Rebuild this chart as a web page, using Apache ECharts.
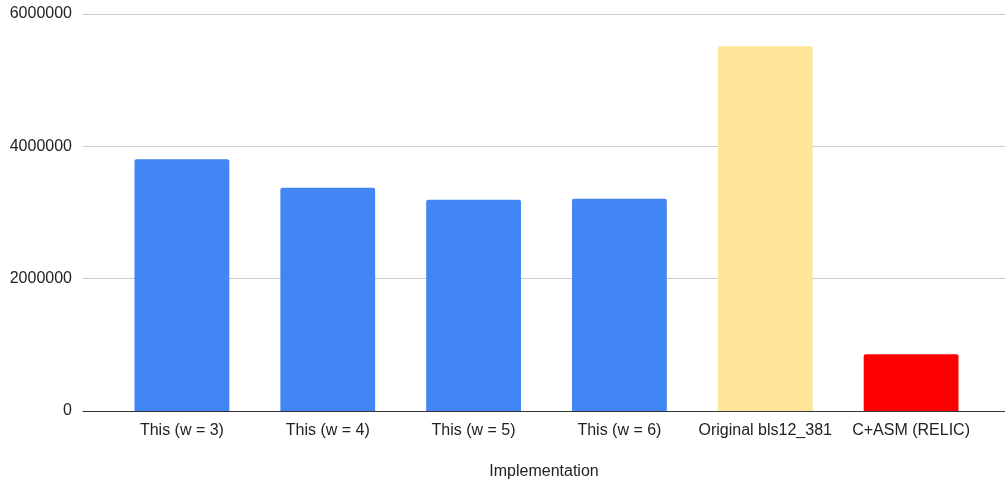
<!DOCTYPE html>
<html>
<head>
<meta charset="utf-8">
<style>
  html, body { margin: 0; padding: 0; background: #fff; }
  #chart { width: 1005px; height: 481px; }
</style>
<script src="https://cdn.jsdelivr.net/npm/echarts@6/dist/echarts.min.js"></script>
</head>
<body>
<div id="chart"></div>
<script>
// Implementation timings
const categories = ['This (w = 3)', 'This (w = 4)', 'This (w = 5)', 'This (w = 6)', 'Original bls12_381', 'C+ASM (RELIC)'];
const values = [3806000, 3375000, 3193000, 3208000, 5514000, 856000];
const barColors = ['#4285F4', '#4285F4', '#4285F4', '#4285F4', '#FFE599', '#FF0000'];
const yTicks = [0, 2000000, 4000000, 6000000];

const font = 'Arial, "Liberation Sans", sans-serif';
const chart = echarts.init(document.getElementById('chart'), null, { renderer: 'canvas' });

chart.setOption({
  animation: false,
  grid: [
    // frame grid: gridlines, y labels, baseline, axis title
    { left: 83, right: 0, top: 14, bottom: 70, outerBoundsMode: 'none', containLabel: false },
    // bar grid: category bands
    { left: 109, right: 21, top: 14, bottom: 70, outerBoundsMode: 'none', containLabel: false }
  ],
  xAxis: [
    {
      gridIndex: 0, type: 'value', min: 0, max: 1,
      axisLine: { show: true, onZero: false, lineStyle: { color: '#333', width: 1 } },
      axisTick: { show: false }, axisLabel: { show: false }, splitLine: { show: false },
      name: 'Implementation', nameLocation: 'middle', nameGap: 53,
      nameTextStyle: { fontFamily: font, fontSize: 16, color: '#222' }
    },
    {
      gridIndex: 1, type: 'category', data: categories,
      axisLine: { show: false }, axisTick: { show: false },
      axisLabel: { fontFamily: font, fontSize: 16, color: '#222', margin: 12, interval: 0 }
    }
  ],
  yAxis: [
    {
      gridIndex: 0, type: 'value', min: yTicks[0], max: yTicks[yTicks.length - 1], interval: 2000000,
      axisLine: { show: false }, axisTick: { show: false },
      axisLabel: { fontFamily: font, fontSize: 16, color: '#222', margin: 11, formatter: v => String(v) },
      splitLine: { show: true, lineStyle: { color: '#cccccc', width: 1 } }
    },
    {
      gridIndex: 1, type: 'value', min: yTicks[0], max: yTicks[yTicks.length - 1],
      show: false, splitLine: { show: false }
    }
  ],
  series: [{
    type: 'bar',
    xAxisIndex: 1, yAxisIndex: 1,
    barWidth: '65%',
    data: values.map((v, i) => ({
      value: v,
      itemStyle: { color: barColors[i], borderRadius: [2, 2, 0, 0] }
    }))
  }]
});
</script>
</body>
</html>
